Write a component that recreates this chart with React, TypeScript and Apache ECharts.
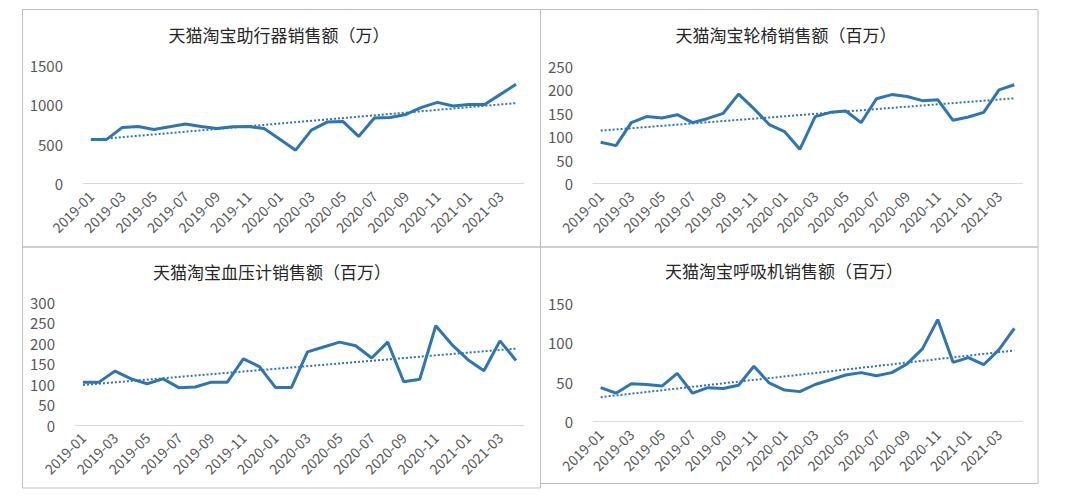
import React, { useEffect, useRef } from "react";
import * as echarts from "echarts";

const months = [
  "2019-01", "2019-02", "2019-03", "2019-04", "2019-05", "2019-06", "2019-07",
  "2019-08", "2019-09", "2019-10", "2019-11", "2019-12", "2020-01", "2020-02",
  "2020-03", "2020-04", "2020-05", "2020-06", "2020-07", "2020-08", "2020-09",
  "2020-10", "2020-11", "2020-12", "2021-01", "2021-02", "2021-03", "2021-04",
];

const walkerSales = [558, 558, 710, 722, 684, 718, 752, 722, 697, 718, 722, 697, 560, 422, 676, 777, 786, 596, 828, 836, 874, 963, 1027, 980, 1001, 1001, 1128, 1255];
const wheelchairSales = [88, 81, 130, 143, 140, 147, 130, 139, 150, 191, 160, 126, 111, 73, 143, 152, 155, 130, 181, 190, 186, 177, 179, 135, 142, 152, 200, 211];
const bpMonitorSales = [105, 105, 132, 113, 101, 113, 91, 93, 105, 105, 162, 143, 92, 92, 179, 191, 203, 194, 164, 203, 106, 112, 243, 197, 160, 133, 206, 158];
const ventilatorSales = [43, 36, 48, 47, 45, 61, 36, 43, 42, 46, 70, 49, 40, 38, 47, 53, 59, 62, 58, 62, 73, 92, 129, 75, 81, 72, 91, 118];

// linear trend line end points (first month, last month)
const walkerTrend = [552, 1018];
const wheelchairTrend = [113, 182];
const bpMonitorTrend = [98, 187];
const ventilatorTrend = [31, 90];

const titles = [
  "天猫淘宝助行器销售额（万）",
  "天猫淘宝轮椅销售额（百万）",
  "天猫淘宝血压计销售额（百万）",
  "天猫淘宝呼吸机销售额（百万）",
];
const yMax = [1500, 250, 300, 150];
const yStep = [500, 50, 50, 50];

const LINE_COLOR = "#2E75B6";
const LABEL_COLOR = "#595959";
const FONT = "'Noto Sans CJK SC', 'Noto Sans', sans-serif";

function trendData(ends: number[]) {
  return months.map((_, i) => (i === 0 ? ends[0] : i === months.length - 1 ? ends[1] : null));
}

export default function App() {
  const ref = useRef<HTMLDivElement>(null);
  useEffect(() => {
    if (!ref.current) return;
    const chart = echarts.init(ref.current, undefined, { renderer: "svg" });

    const grids = [
      { left: 83, top: 65, width: 441, height: 118.5 },
      { left: 593, top: 66.5, width: 429, height: 117 },
      { left: 75, top: 302.5, width: 449, height: 122.5 },
      { left: 593, top: 303, width: 429, height: 118.7 },
    ];
    const values = [walkerSales, wheelchairSales, bpMonitorSales, ventilatorSales];
    const trends = [walkerTrend, wheelchairTrend, bpMonitorTrend, ventilatorTrend];
    const titlePos = [
      [279, 34.5],
      [786, 34.5],
      [272, 271.5],
      [784, 270.5],
    ];

    const xAxis = grids.map((_, i) => ({
      type: "category",
      gridIndex: i,
      data: months,
      boundaryGap: true,
      axisLine: { show: true, lineStyle: { color: "#d9d9d9", width: 1 } },
      axisTick: { show: false },
      axisLabel: {
        interval: 1,
        rotate: 45,
        margin: 10,
        color: LABEL_COLOR,
        fontSize: 14,
        fontFamily: FONT,
      },
    }));
    const yAxis = grids.map((_, i) => ({
      type: "value",
      gridIndex: i,
      min: 0,
      max: yMax[i],
      interval: yStep[i],
      axisLine: { show: false },
      axisTick: { show: false },
      splitLine: { show: false },
      axisLabel: {
        color: LABEL_COLOR,
        fontSize: 15,
        fontFamily: FONT,
        margin: 20,
        formatter: (v: number) => String(v),
      },
    }));
    const series: any[] = [];
    values.forEach((v, i) => {
      series.push({
        type: "line",
        xAxisIndex: i,
        yAxisIndex: i,
        data: v,
        symbol: "none",
        lineStyle: { color: LINE_COLOR, width: 3 },
        z: 3,
      });
      series.push({
        type: "line",
        xAxisIndex: i,
        yAxisIndex: i,
        data: trendData(trends[i]),
        connectNulls: true,
        symbol: "none",
        lineStyle: { color: LINE_COLOR, width: 2, type: [2, 2] },
        z: 2,
      });
    });

    const graphic: any[] = [
      { type: "rect", shape: { x: 22.5, y: 9.5, width: 518, height: 237.5 }, style: { fill: "none", stroke: "#bfbfbf", lineWidth: 1 } },
      { type: "rect", shape: { x: 540.5, y: 9.5, width: 497.5, height: 237.5 }, style: { fill: "none", stroke: "#bfbfbf", lineWidth: 1 } },
      { type: "rect", shape: { x: 22.5, y: 247, width: 518, height: 241 }, style: { fill: "none", stroke: "#bfbfbf", lineWidth: 1 } },
      { type: "rect", shape: { x: 540.5, y: 247, width: 497.5, height: 236.5 }, style: { fill: "none", stroke: "#bfbfbf", lineWidth: 1 } },
    ];
    titles.forEach((t, i) => {
      graphic.push({
        type: "text",
        x: titlePos[i][0],
        y: titlePos[i][1],
        style: {
          text: t,
          fill: "#262626",
          fontSize: 17,
          fontFamily: FONT,
          align: "center",
          verticalAlign: "middle",
          textAlign: "center",
          textVerticalAlign: "middle",
        },
      });
    });

    chart.setOption({
      animation: false,
      backgroundColor: "#ffffff",
      grid: grids,
      xAxis,
      yAxis,
      series,
      graphic,
    } as any);
    return () => chart.dispose();
  }, []);
  return (
    <div
      ref={ref}
      style={{ position: "absolute", left: 0, top: 0, width: 1069, height: 497 }}
    />
  );
}
